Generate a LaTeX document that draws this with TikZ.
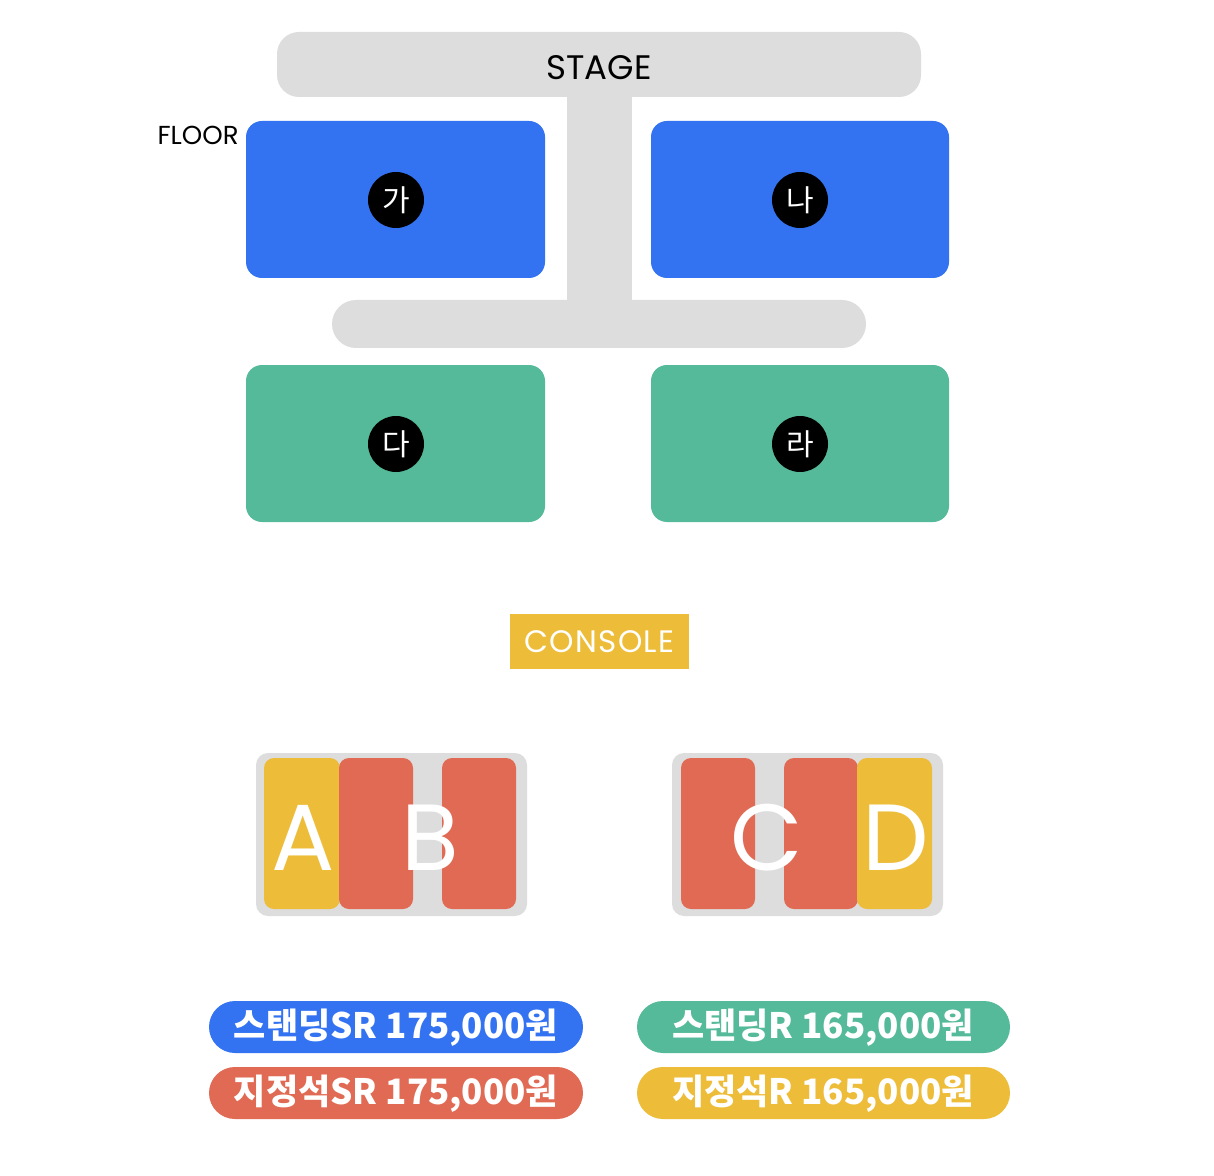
\documentclass[tikz,border=0pt]{standalone}
\usepackage{fontspec}
\setmainfont{Poppins}
\newfontfamily\cjk{Noto Sans CJK KR}
\newfontfamily\pop{Poppins}
\newfontfamily\popsp[LetterSpace=4]{Poppins}
\definecolor{sblue}{HTML}{3373F2}
\definecolor{sgreen}{HTML}{55BA9A}
\definecolor{sred}{HTML}{E06A53}
\definecolor{syellow}{HTML}{EDBD3A}
\definecolor{sgray}{HTML}{DDDDDD}
\tikzset{
  grayshape/.style={fill=sgray, draw=none},
  block/.style={draw=none, rounded corners=8pt},
  badge/.style={circle, fill=black, minimum size=28pt, inner sep=0pt, text=white, font=\cjk\fontsize{15}{15}\selectfont},
  col/.style={draw=none, rounded corners=5pt},
  bigletter/.style={text=white, font=\pop\fontsize{47}{47}\selectfont, inner sep=0pt},
  pill/.style={draw=none, rounded corners=13pt},
  pilltext/.style={text=white, font=\cjk\bfseries\fontsize{17.5}{17.5}\selectfont, inner sep=0pt}
}
\begin{document}
\begin{tikzpicture}[x=0.5pt,y=-0.5pt]
\useasboundingbox (0,0) rectangle (1214,1176);
\fill[white] (0,0) rectangle (1214,1176);
% stage structure
\fill[grayshape] (567,80) rectangle (632,320);
\fill[grayshape, rounded corners=11pt] (277,32) rectangle (921,97);
\fill[grayshape, rounded corners=12pt] (332,300) rectangle (866,348);
\node[font=\pop\fontsize{17}{17}\selectfont, inner sep=0pt] (stage) at (599,68) {STAGE};
\node[font=\pop\fontsize{13}{13}\selectfont, anchor=east, inner sep=0pt] (floor) at (239,135) {FLOOR};
% floor blocks
\fill[block, sblue] (246,121) rectangle (545,278);
\fill[block, sblue] (651,121) rectangle (949,278);
\fill[block, sgreen] (246,365) rectangle (545,522);
\fill[block, sgreen] (651,365) rectangle (949,522);
\node[badge] (ga) at (396,200) {가};
\node[badge] (na) at (800,200) {나};
\node[badge] (da) at (396,444) {다};
\node[badge] (ra) at (800,444) {라};
% console
\node[fill=syellow, text=white, font=\popsp\fontsize{15.5}{15.5}\selectfont, minimum width=89.5pt, minimum height=27.5pt, inner sep=0pt] (console) at (599.5,641.5) {CONSOLE};
% AB block
\fill[grayshape, rounded corners=6pt] (256,753) rectangle (527,916);
\fill[col, syellow] (264,758) rectangle (340,909);
\fill[col, sred] (339,758) rectangle (413,909);
\fill[col, sred] (442,758) rectangle (516,909);
\node[bigletter] (A) at (303,838) {A};
\node[bigletter] (B) at (430,838) {B};
% CD block
\fill[grayshape, rounded corners=6pt] (672,753) rectangle (943,916);
\fill[col, sred] (681,758) rectangle (755,909);
\fill[col, sred] (784,758) rectangle (858,909);
\fill[col, syellow] (857,758) rectangle (932,909);
\node[bigletter] (C) at (767,838) {C};
\node[bigletter] (D) at (896,838) {D};
% legend
\fill[pill, sblue] (209,1001) rectangle (583,1053);
\fill[pill, sred] (209,1067) rectangle (583,1119);
\fill[pill, sgreen] (637,1001) rectangle (1010,1053);
\fill[pill, syellow] (637,1067) rectangle (1010,1119);
\node[pilltext] (l1) at (396,1028) {스탠딩SR 175,000원};
\node[pilltext] (l2) at (396,1094) {지정석SR 175,000원};
\node[pilltext] (l3) at (823,1028) {스탠딩R 165,000원};
\node[pilltext] (l4) at (823,1094) {지정석R 165,000원};
\end{tikzpicture}
\end{document}
